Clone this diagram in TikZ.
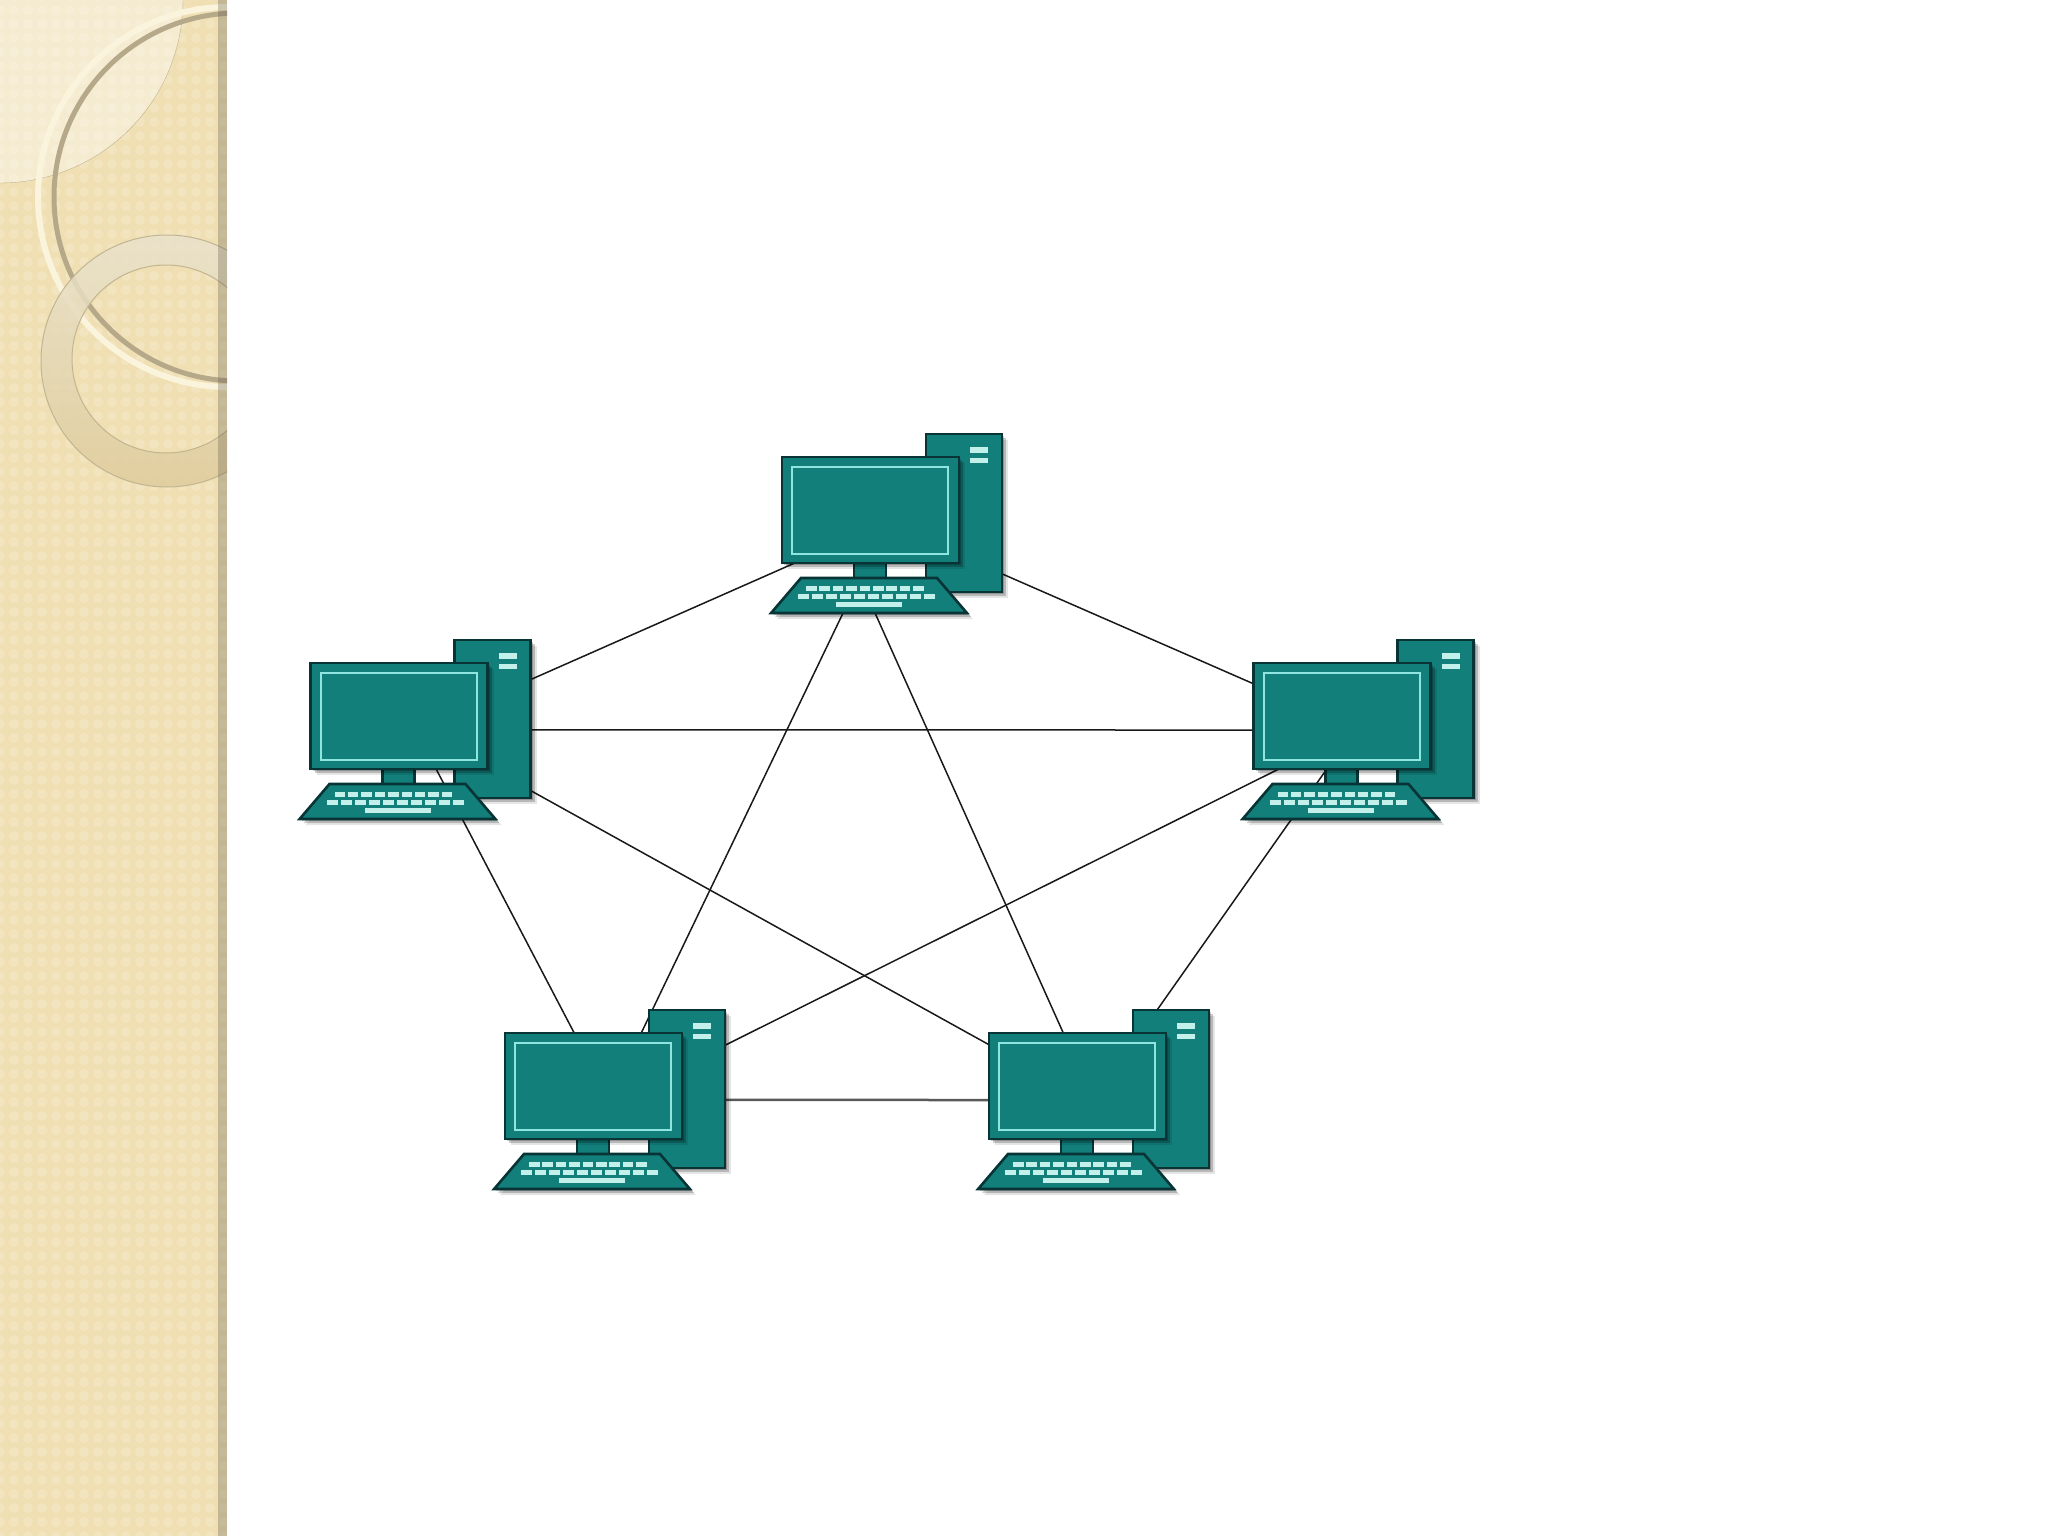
\documentclass[tikz,border=0pt]{standalone}
\usetikzlibrary{backgrounds,shadows,shapes.geometric,patterns.meta}
\definecolor{pcteal}{HTML}{127F7B}
\definecolor{pcdark}{HTML}{083436}
\definecolor{pclight}{HTML}{8FE6E0}
\definecolor{pckey}{HTML}{C4F0EC}
\definecolor{panelbase}{HTML}{EFDFB3}
\definecolor{paneldot}{HTML}{F2E4BE}
\definecolor{ringtop}{HTML}{E9E2CC}
\definecolor{ringlow}{HTML}{DFCC9C}
\definecolor{ringedge}{HTML}{C2B591}
\definecolor{arcdark}{HTML}{B5A98A}
\definecolor{arclight}{HTML}{FBF4DC}
\tikzset{
  softshadow/.style={drop shadow={shadow xshift=2pt,shadow yshift=-2pt,opacity=.2,fill=black},
    drop shadow={shadow xshift=4pt,shadow yshift=-4pt,opacity=.2,fill=black},
    drop shadow={shadow xshift=6pt,shadow yshift=-6pt,opacity=.1,fill=black}},
  pcpart/.style={draw=pcdark,fill=pcteal,line width=2.6pt,inner sep=0pt,outer sep=0pt},
  link/.style={draw=black!90,line width=1.5pt},
  pics/computer/.style={code={
    \node[pcpart,softshadow,minimum width=76pt,minimum height=158pt] (-tower) at (182,56) {};
    \fill[pckey] (188,-10) rectangle +(18,5.5);
    \fill[pckey] (188,0.5) rectangle +(18,5.5);
    \node[pcpart,minimum width=32pt,minimum height=15pt] (-neck) at (88,113.5) {};
    \node[pcpart,softshadow,minimum width=177pt,minimum height=106pt] (-monitor) at (88.5,53) {};
    \node[draw=pclight,line width=2pt,inner sep=0pt,minimum width=156pt,minimum height=87pt] (-screen) at (88,53.5) {};
    \node[pcpart,softshadow,trapezium,trapezium angle=49.5,inner ysep=1pt,inner xsep=0pt,text width=136pt,text height=33pt,text depth=0pt] (-key) at (87,138.5) {};
    \foreach \i in {0,...,8} \fill[pckey] (24+\i*13.4,128.5) rectangle +(10.5,5);
    \foreach \i in {0,...,9} \fill[pckey] (16+\i*14,136.5) rectangle +(11,5);
    \fill[pckey] (54,144.5) rectangle (120,149.5);
  }}
}
\begin{document}
\begin{tikzpicture}[x=1pt,y=-1pt]
 \useasboundingbox (0,0) rectangle (2048,1536);
 % side panel
 \begin{scope}
  \clip (0,0) rectangle (227,1536);
  \fill[panelbase] (0,0) rectangle (227,1536);
  \fill[pattern={Dots[distance=14pt,radius=5pt]},pattern color=paneldot] (0,0) rectangle (227,1536);
  \fill[white,opacity=.4] (0,0) -- (183,0) arc[start angle=0,end angle=90,radius=183] -- cycle;
  \draw[panelbase!80!black,line width=.4pt] (183,0) arc[start angle=0,end angle=90,radius=183];
  \draw[arclight,line width=6pt] (228,197) circle[radius=190];
  \draw[arcdark,line width=5pt] (238,197) circle[radius=184];
  \shade[top color=ringtop,bottom color=ringlow,opacity=.85,even odd rule]
    (167,361) circle[radius=126] (166,359) circle[radius=94];
  \draw[ringedge,line width=1pt] (167,361) circle[radius=126] (166,359) circle[radius=94];
  \fill[black!60!panelbase,opacity=.3] (218,0) rectangle (227,1536);
 \end{scope}
 % computers
 \pic (pctop) at (782,457) {computer};
 \pic (pcleft) at (310.5,663) {computer};
 \pic (pcright) at (1253.5,663) {computer};
 \pic (pclow) at (505,1033) {computer};
 \pic (pcrow) at (989,1033) {computer};
 % links, behind the computers
 \begin{pgfonlayer}{background}
  \foreach \a/\b in {pctop-monitor.-145/pcleft-tower.46.5,pctop-tower.-58/pcright-monitor.160.2,
    pcleft-tower.-16/pcright-monitor.-171,pctop-key.-146/pclow-monitor.48.7,pctop-key.-71.6/pcrow-monitor.105.3,
    pcleft-tower.-62.8/pcrow-monitor.155.1,pcleft-monitor.-55.8/pclow-monitor.110.2,
    pcright-monitor.-140.8/pclow-tower.49.2,pcright-monitor.-106.8/pcrow-tower.100}
   \draw[link] (\a) -- (\b);
  \draw[link,draw=black!65,line width=2.5pt] (pclow-tower.-16) -- (pcrow-monitor.-171);
 \end{pgfonlayer}
\end{tikzpicture}
\end{document}
